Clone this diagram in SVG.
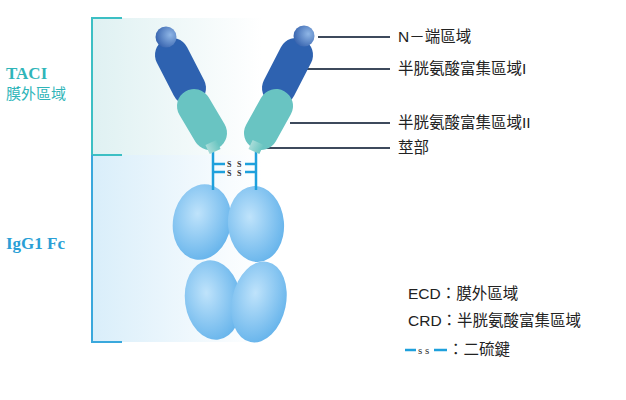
<svg xmlns="http://www.w3.org/2000/svg" width="626" height="400" viewBox="0 0 626 400">
<style>
.lab{font-family:"Liberation Sans","Noto Sans CJK TC",sans-serif;font-size:15.5px;fill:#222}
.ld{stroke:#3d4a5c;stroke-width:2}
.ss{font-family:"Liberation Serif",serif;font-size:8px;font-weight:bold;fill:#333}
.sl{stroke:#1ea0dc;stroke-width:2.5}
</style>
<defs>
<linearGradient id="bgT" x1="0" x2="1"><stop offset="0" stop-color="#dff1f2"/><stop offset="1" stop-color="#ffffff"/></linearGradient>
<linearGradient id="bgB" x1="0" x2="1"><stop offset="0" stop-color="#d9eefa"/><stop offset="1" stop-color="#ffffff"/></linearGradient>
<radialGradient id="ball" cx="0.7" cy="0.4" r="0.8"><stop offset="0" stop-color="#8fb6e6"/><stop offset="1" stop-color="#2d5aa8"/></radialGradient>
<radialGradient id="fc" cx="0.4" cy="0.4" r="0.7"><stop offset="0" stop-color="#bfe3fb"/><stop offset="1" stop-color="#5fb0ea"/></radialGradient>
<linearGradient id="hg"><stop offset="0" stop-color="#a8dcd8"/><stop offset="1" stop-color="#6cc6c2"/></linearGradient>
</defs>
<rect x="92" y="18" width="170" height="137" fill="url(#bgT)"/>
<rect x="92" y="155" width="170" height="187" fill="url(#bgB)"/>
<g id="brackets">
<path d="M122 18 H92 V155 H122" fill="none" stroke="#3cbfc4" stroke-width="2"/>
<path d="M92 155 V342 H122" fill="none" stroke="#3aa8dc" stroke-width="2"/>
</g>
<g id="left-labels">
<text x="6" y="79" font-family="Liberation Serif,serif" font-weight="bold" font-size="17" fill="#2fb5b9">TACI</text>
<text x="6" y="99" font-family="Liberation Sans,Noto Sans CJK TC,sans-serif" font-size="15" fill="#2fb5b9">膜外區域</text>
<text x="6" y="249" font-family="Liberation Serif,serif" font-weight="bold" font-size="17" fill="#2a9fd6">IgG1 Fc</text>
</g>
<g id="fc-domain">
<ellipse cx="202" cy="222" rx="29" ry="38" transform="rotate(10 202 222)" fill="url(#fc)"/>
<ellipse cx="256" cy="224" rx="28" ry="38" transform="rotate(-5 256 224)" fill="url(#fc)"/>
<ellipse cx="213" cy="300" rx="28" ry="40" transform="rotate(-8 213 300)" fill="url(#fc)"/>
<ellipse cx="259" cy="302" rx="27" ry="41" transform="rotate(12 259 302)" fill="url(#fc)"/>
</g>
<g id="connectors">
<line class="sl" x1="213" y1="152" x2="213" y2="190"/>
<line class="sl" x1="256" y1="152" x2="256" y2="190"/>
<line class="sl" x1="213" y1="164" x2="225" y2="164"/>
<line class="sl" x1="213" y1="172" x2="225" y2="172"/>
<line class="sl" x1="245" y1="164" x2="256" y2="164"/>
<line class="sl" x1="245" y1="172" x2="256" y2="172"/>
<text class="ss" x="227" y="167">S</text><text class="ss" x="237" y="167">S</text>
<text class="ss" x="227" y="176">S</text><text class="ss" x="237" y="176">S</text>
<line class="ld" x1="318" y1="37" x2="390" y2="37"/>
<line class="ld" x1="303" y1="69" x2="390" y2="69"/>
<line class="ld" x1="290" y1="123" x2="390" y2="123"/>
<line class="ld" x1="262" y1="148" x2="390" y2="148"/>
</g>
<g id="left-arm">
<line x1="172" y1="55" x2="189" y2="88" stroke="#2e62b0" stroke-width="34" stroke-linecap="round"/>
<line x1="194" y1="106" x2="210" y2="133" stroke="#69c4c2" stroke-width="34" stroke-linecap="round"/>
<rect x="207" y="142" width="12" height="10" fill="url(#hg)" transform="rotate(-25 213 147)"/>
<circle cx="166" cy="37" r="10.5" fill="url(#ball)"/>
</g>
<g id="right-arm">
<line x1="296" y1="55" x2="279" y2="88" stroke="#2e62b0" stroke-width="34" stroke-linecap="round"/>
<line x1="276" y1="106" x2="261" y2="133" stroke="#69c4c2" stroke-width="34" stroke-linecap="round"/>
<rect x="250" y="142" width="12" height="10" fill="url(#hg)" transform="rotate(25 256 147)"/>
<circle cx="304" cy="36" r="10.5" fill="url(#ball)"/>
</g>
<g id="labels">
<text class="lab" x="398" y="42">N－端區域</text>
<text class="lab" x="398" y="74">半胱氨酸富集區域I</text>
<text class="lab" x="398" y="128">半胱氨酸富集區域II</text>
<text class="lab" x="398" y="153">莖部</text>
</g>
<g id="legend">
<text class="lab" x="408" y="299">ECD：膜外區域</text>
<text class="lab" x="408" y="326">CRD：半胱氨酸富集區域</text>
<line class="sl" x1="405" y1="350" x2="416" y2="350" stroke-width="2"/>
<text x="418" y="354" font-family="Liberation Serif,serif" font-size="11" fill="#333">s s</text>
<line class="sl" x1="434" y1="350" x2="447" y2="350" stroke-width="2"/>
<text class="lab" x="448" y="355">：二硫鍵</text>
</g>
</svg>
